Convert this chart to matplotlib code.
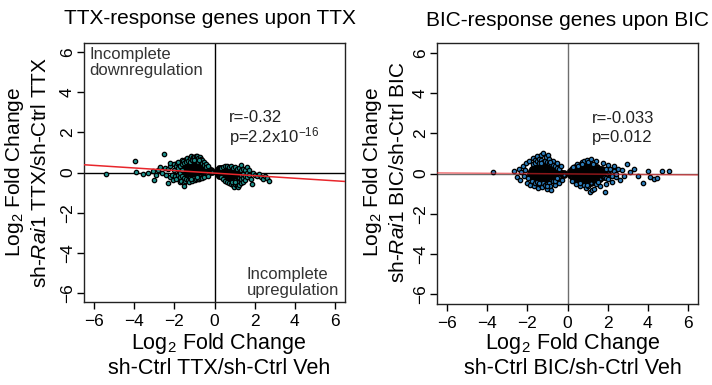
import numpy as np
import matplotlib
matplotlib.use("Agg")
import matplotlib.pyplot as plt

plt.rcParams["font.family"] = ["Liberation Sans", "DejaVu Sans"]
plt.rcParams["mathtext.fontset"] = "custom"
plt.rcParams["mathtext.rm"] = "Liberation Sans"
plt.rcParams["mathtext.it"] = "Liberation Sans:italic"

# TTX-response genes: (log2FC sh-Ctrl TTX/Veh, log2FC sh-Rai1 TTX/sh-Ctrl TTX)
ttx_down = [
    (-5.4, -0.05), (-3.97, 0.55), (-3.9, 0.02), (-3.55, -0.05), (-3.3, 0.0), (-3.05, 0.05),
    (-3.0, -0.35), (-2.9, -0.1), (-2.8, 0.1), (-2.7, 0.25), (-2.6, 0.0), (-2.5, 0.9),
    (-2.45, 0.2), (-2.4, -0.1), (-2.3, -0.5), (-2.3, 0.15), (-2.2, 0.3), (-2.2, -0.2),
    (-2.2, 0.45), (-2.1, -0.1), (-2.05, -0.35), (-2.0, 0.4), (-2.0, 0.1), (-1.95, -0.15),
    (-1.9, -0.3), (-1.9, 0.3), (-1.85, 0.45), (-1.8, 0.5), (-1.8, 0.2), (-1.8, -0.1),
    (-1.7, -0.45), (-1.7, 0.3), (-1.7, 0.0), (-1.7, -0.2), (-1.65, -0.4), (-1.6, 0.6),
    (-1.6, 0.4), (-1.6, 0.1), (-1.6, -0.15), (-1.55, 0.55), (-1.5, -0.5), (-1.5, -0.65),
    (-1.5, 0.45), (-1.5, -0.25), (-1.45, -0.4), (-1.4, 0.65), (-1.4, 0.5), (-1.4, -0.3),
    (-1.35, 0.7), (-1.3, -0.35), (-1.3, 0.55), (-1.25, -0.45), (-1.2, 0.7), (-1.2, 0.5),
    (-1.2, -0.25), (-1.15, 0.8), (-1.1, -0.4), (-1.1, 0.6), (-1.05, 0.78), (-1.0, 0.75),
    (-1.0, 0.55), (-1.0, -0.25), (-0.95, -0.35), (-0.9, 0.8), (-0.9, -0.3), (-0.9, 0.6),
    (-0.85, 0.8), (-0.8, 0.7), (-0.8, 0.5), (-0.8, -0.3), (-0.75, -0.3), (-0.7, 0.75),
    (-0.7, -0.25), (-0.7, 0.55), (-0.65, 0.68), (-0.6, 0.6), (-0.6, -0.25), (-0.6, 0.45),
    (-0.5, 0.5), (-0.5, -0.2), (-0.5, 0.35), (-0.4, 0.4), (-0.4, 0.25), (-0.3, 0.3),
    (-0.3, -0.15), (-1.02, 0.62), (-0.78, 0.62), (-1.18, -0.32), (-0.88, -0.22),
]
ttx_up = [
    (0.3, 0.2), (0.3, -0.2), (0.4, 0.25), (0.4, -0.3), (0.5, 0.3), (0.5, -0.4),
    (0.6, 0.3), (0.6, -0.45), (0.7, 0.25), (0.7, -0.5), (0.8, 0.3), (0.8, -0.55),
    (0.9, 0.2), (0.9, -0.6), (0.95, -0.7), (1.0, 0.25), (1.0, -0.55), (1.1, 0.15),
    (1.1, -0.45), (1.1, -0.65), (1.15, -0.72), (1.2, 0.2), (1.2, -0.6), (1.3, 0.35),
    (1.3, 0.1), (1.3, -0.1), (1.3, -0.3), (1.3, -0.5), (1.4, 0.15), (1.4, -0.05),
    (1.4, -0.25), (1.4, -0.45), (1.5, 0.1), (1.5, -0.15), (1.5, -0.35), (1.6, 0.25),
    (1.6, 0.0), (1.6, -0.2), (1.7, -0.1), (1.7, 0.1), (1.8, -0.3), (1.85, -0.55),
    (1.9, 0.0), (2.0, -0.1), (2.1, -0.15), (2.2, -0.05), (2.3, -0.2), (2.4, -0.3),
    (2.5, -0.15), (2.6, -0.25), (2.7, -0.4), (0.88, -0.48), (1.02, -0.45),
]
# densest part of each TTX cloud, one list of x per y row
ttx_dense = {
    0.42: [-1.33, -1.23, -1.13, -1.03, -0.93, -0.83, -0.73, -0.63],
    0.32: [-1.57, -1.47, -1.37, -1.27, -1.17, -1.07, -0.97, -0.87, -0.77, -0.67, -0.57, -0.47],
    0.22: [-1.73, -1.63, -1.53, -1.43, -1.33, -1.23, -1.13, -1.03, -0.93, -0.83, -0.73, -0.63,
           -0.53, -0.43, -0.33, 0.23, 0.33, 0.43, 0.53, 0.63, 0.73, 0.83],
    0.12: [-1.77, -1.67, -1.57, -1.47, -1.37, -1.27, -1.17, -1.07, -0.97, -0.87, -0.77, -0.67,
           -0.57, -0.47, -0.37, -0.27, -0.17, 0.13, 0.23, 0.33, 0.43, 0.53, 0.63, 0.73, 0.83,
           0.93, 1.03],
    0.02: [-1.73, -1.63, -1.53, -1.43, -1.33, -1.23, -1.13, -1.03, -0.93, -0.83, -0.73, -0.63,
           -0.53, -0.43, -0.33, -0.23, -0.13, 0.13, 0.23, 0.33, 0.43, 0.53, 0.63, 0.73, 0.83,
           0.93, 1.03, 1.13, 1.23],
    -0.08: [-1.57, -1.47, -1.37, -1.27, -1.17, -1.07, -0.97, -0.87, -0.77, -0.67, -0.57, -0.47,
            -0.37, 0.17, 0.27, 0.37, 0.47, 0.57, 0.67, 0.77, 0.87, 0.97, 1.07, 1.17, 1.27],
    -0.18: [-1.33, -1.23, -1.13, -1.03, -0.93, -0.83, -0.73, 0.23, 0.33, 0.43, 0.53, 0.63, 0.73,
            0.83, 0.93, 1.03, 1.13, 1.23],
    -0.28: [0.47, 0.57, 0.67, 0.77, 0.87, 0.97, 1.07, 1.17],
    -0.38: [0.63, 0.73, 0.83, 0.93, 1.03],
}

# BIC-response genes
bic_down = [
    (-3.7, 0.05), (-2.65, 0.1), (-2.5, -0.15), (-2.4, 0.2), (-2.35, -0.3), (-2.3, 0.05),
    (-2.2, 0.35), (-2.15, -0.1), (-2.1, 0.15), (-2.05, 0.5), (-2.0, -0.45), (-1.95, -0.2),
    (-1.9, 0.6), (-1.85, -0.55), (-1.75, -0.35), (-1.7, 0.75), (-1.7, 0.45), (-1.65, -0.6),
    (-1.6, 0.65), (-1.6, 0.5), (-1.6, -0.45), (-1.5, 0.85), (-1.5, 0.6), (-1.5, -0.4),
    (-1.45, -0.7), (-1.4, 0.7), (-1.4, 0.5), (-1.4, -0.5), (-1.3, 0.9), (-1.3, 0.65),
    (-1.3, -0.55), (-1.25, -0.65), (-1.2, 1.0), (-1.2, 0.55), (-1.2, -0.45), (-1.1, 0.6),
    (-1.1, -0.55), (-1.05, 0.8), (-1.0, -0.75), (-1.0, 0.55), (-1.0, -0.5), (-0.95, 0.9),
    (-0.9, 0.7), (-0.9, 0.5), (-0.9, -0.45), (-0.85, -0.6), (-0.8, -0.8), (-0.8, 0.45),
    (-0.7, 0.6), (-0.7, 0.4), (-0.7, -0.35), (-0.6, -0.55), (-0.6, 0.35), (-0.6, -0.35),
    (-0.5, 0.5), (-0.5, 0.25), (-0.5, -0.2), (-0.4, -0.45), (-0.4, 0.2), (-0.3, 0.35),
    (-0.25, -0.3), (-1.32, 0.52), (-1.02, -0.62), (-0.88, 0.58), (-1.42, -0.48),
]
bic_up = [
    (0.2, -0.35), (0.25, 0.3), (0.4, -0.5), (0.45, 0.45), (0.5, 0.35), (0.6, -0.6),
    (0.6, -0.45), (0.7, 0.55), (0.8, 0.6), (0.8, -0.55), (0.9, -0.7), (0.95, 0.65),
    (1.0, 0.55), (1.0, -0.6), (1.1, -0.9), (1.15, 0.7), (1.2, -0.8), (1.3, -0.75),
    (1.4, 0.6), (1.4, -0.5), (1.6, -0.6), (1.75, 0.5), (1.85, -0.9), (1.9, -0.5),
    (1.9, 0.2), (1.9, -0.2), (2.0, 0.4), (2.0, -0.25), (2.1, 0.2), (2.2, -0.4),
    (2.2, -0.1), (2.3, 0.35), (2.3, 0.1), (2.4, -0.15), (2.4, 0.0), (2.5, 0.2),
    (2.6, -0.3), (2.7, 0.15), (2.8, -0.1), (2.95, 0.45), (3.1, 0.05), (3.3, 0.2),
    (3.5, -0.1), (3.75, -0.45), (4.0, 0.1), (4.1, -0.15), (4.3, -0.25), (4.45, -0.2),
    (4.7, 0.1), (5.05, 0.1), (0.72, 0.45), (0.95, -0.55), (1.25, 0.45), (1.5, -0.4),
]
bic_dense = {
    0.42: [-1.43, -1.33, -1.23, -1.13, -1.03, -0.93, 0.63, 0.73, 0.83, 0.93, 1.03, 1.13],
    0.32: [-1.67, -1.57, -1.47, -1.37, -1.27, -1.17, -1.07, -0.97, -0.87, -0.77, -0.67,
           0.37, 0.47, 0.57, 0.67, 0.77, 0.87, 0.97, 1.07, 1.17, 1.27, 1.37, 1.47],
    0.22: [-1.77, -1.67, -1.57, -1.47, -1.37, -1.27, -1.17, -1.07, -0.97, -0.87, -0.77, -0.67,
           -0.57, 0.23, 0.33, 0.43, 0.53, 0.63, 0.73, 0.83, 0.93, 1.03, 1.13, 1.23, 1.33,
           1.43, 1.53, 1.63, 1.73],
    0.12: [-1.83, -1.73, -1.63, -1.53, -1.43, -1.33, -1.23, -1.13, -1.03, -0.93, -0.83, -0.73,
           -0.63, -0.53, -0.43, 0.13, 0.23, 0.33, 0.43, 0.53, 0.63, 0.73, 0.83, 0.93, 1.03,
           1.13, 1.23, 1.33, 1.43, 1.53, 1.63, 1.73, 1.83],
    0.02: [-1.87, -1.77, -1.67, -1.57, -1.47, -1.37, -1.27, -1.17, -1.07, -0.97, -0.87, -0.77,
           -0.67, -0.57, -0.47, -0.37, -0.27, -0.17, 0.13, 0.23, 0.33, 0.43, 0.53, 0.63, 0.73,
           0.83, 0.93, 1.03, 1.13, 1.23, 1.33, 1.43, 1.53, 1.63, 1.73, 1.83, 1.93, 2.03],
    -0.08: [-1.87, -1.77, -1.67, -1.57, -1.47, -1.37, -1.27, -1.17, -1.07, -0.97, -0.87, -0.77,
            -0.67, -0.57, -0.47, -0.37, -0.27, -0.17, 0.13, 0.23, 0.33, 0.43, 0.53, 0.63, 0.73,
            0.83, 0.93, 1.03, 1.13, 1.23, 1.33, 1.43, 1.53, 1.63, 1.73, 1.83, 1.93],
    -0.18: [-1.83, -1.73, -1.63, -1.53, -1.43, -1.33, -1.23, -1.13, -1.03, -0.93, -0.83, -0.73,
            -0.63, -0.53, -0.43, 0.23, 0.33, 0.43, 0.53, 0.63, 0.73, 0.83, 0.93, 1.03, 1.13,
            1.23, 1.33, 1.43, 1.53, 1.63, 1.73, 1.83],
    -0.28: [-1.73, -1.63, -1.53, -1.43, -1.33, -1.23, -1.13, -1.03, -0.93, -0.83, -0.73, -0.63,
            0.33, 0.43, 0.53, 0.63, 0.73, 0.83, 0.93, 1.03, 1.13, 1.23, 1.33, 1.43, 1.53, 1.63],
    -0.38: [-1.57, -1.47, -1.37, -1.27, -1.17, -1.07, -0.97, -0.87, 0.47, 0.57, 0.67, 0.77,
            0.87, 0.97, 1.07, 1.17, 1.27, 1.37, 1.47],
    -0.48: [-1.33, -1.23, -1.13, -1.03, 0.67, 0.77, 0.87, 0.97, 1.07, 1.17],
}

# regression lines: (intercept, slope)
ttx_fit = (-0.03, -0.064)
bic_fit = (-0.02, -0.008)
ttx_stats = ["r=-0.32", r"p=2.2x10$^{\mathit{-16}}$"]
bic_stats = ["r=-0.033", "p=0.012"]
ticks = [-6, -4, -2, 0, 2, 4, 6]


def rows_to_points(rows):
    return np.array([(x, y) for y, xs in rows.items() for x in xs])


fig = plt.figure(figsize=(7.12, 3.85), dpi=100)


def panel(rect, outer, dense, fit, color, zcolor, stats, stats_x, ylim, line_alpha):
    ax = fig.add_axes(rect)
    outer = np.array(outer)
    ax.axvline(0, color=zcolor, lw=1, zorder=1)
    ax.axhline(0, color=zcolor, lw=1, zorder=1)
    # thousands of overlapping points make the middle of each cloud solid black
    ax.scatter(dense[:, 0], dense[:, 1], s=10, c=color, edgecolors="black",
               linewidths=1.7, zorder=2)
    ax.scatter(outer[:, 0], outer[:, 1], s=10, c=color, edgecolors="black",
               linewidths=0.9, zorder=2)
    xs = np.array([-6.5, 6.5])
    ax.plot(xs, fit[0] + fit[1] * xs, color="#e8262b", lw=1.1, alpha=line_alpha, zorder=3)
    ax.set_xlim(-6.5, 6.5)
    ax.set_ylim(-ylim, ylim)
    ax.set_xticks(ticks)
    ax.set_yticks(ticks)
    ax.tick_params(direction="out", length=5, width=1, labelsize=12.5)
    ax.tick_params(axis="x", pad=4)
    ax.tick_params(axis="y", pad=1.5)
    for lab in ax.get_yticklabels():
        lab.set_rotation(90)
        lab.set_va("center")
    for s in ax.spines.values():
        s.set_linewidth(1)
        s.set_color("#222222")
    ax.text(stats_x, 2.72, stats[0], fontsize=12, color="#222222", va="center")
    ax.text(stats_x, 1.78, stats[1], fontsize=12, color="#222222", va="center")
    return ax


ax1 = panel([84 / 712, 83 / 385, 261 / 712, 259 / 385], ttx_down + ttx_up,
            rows_to_points(ttx_dense), ttx_fit, "#1d8f8a", "black", ttx_stats, 0.7,
            6.45, 1.0)
ax2 = panel([437 / 712, 81 / 385, 261 / 712, 261 / 385], bic_down + bic_up,
            rows_to_points(bic_dense), bic_fit, "#2b7cba", "#6e6e6e", bic_stats, 1.2,
            6.5, 0.6)

ax1.text(-6.25, 6.25, "Incomplete\ndownregulation", fontsize=12, color="#333333",
         va="top", ha="left", linespacing=1.1)
ax1.text(1.6, -6.25, "Incomplete\nupregulation", fontsize=12, color="#333333",
         va="bottom", ha="left", linespacing=1.1)

fig.text(210 / 712, 1 - 19 / 385, "TTX-response genes upon TTX", fontsize=15,
         ha="center", va="center")
fig.text(567 / 712, 1 - 20 / 385, "BIC-response genes upon BIC", fontsize=15,
         ha="center", va="center")

lab = 15.5
for cx, second in [(219, "sh-Ctrl TTX/sh-Ctrl Veh"), (573, "sh-Ctrl BIC/sh-Ctrl Veh")]:
    fig.text(cx / 712, 1 - 343 / 385, r"Log$_2$ Fold Change", fontsize=lab,
             ha="center", va="center")
    fig.text(cx / 712, 1 - 369 / 385, second, fontsize=lab, ha="center", va="center")

for x1, x2, second in [(15, 41, r"sh-$\mathit{Rai1}$ TTX/sh-Ctrl TTX"),
                       (372, 398, r"sh-$\mathit{Rai1}$ BIC/sh-Ctrl BIC")]:
    fig.text(x1 / 712, 1 - 172 / 385, r"Log$_2$ Fold Change", fontsize=15,
             rotation=90, ha="center", va="center")
    fig.text(x2 / 712, 1 - 172 / 385, second, fontsize=15,
             rotation=90, ha="center", va="center")

fig.savefig("out.png", dpi=100)
